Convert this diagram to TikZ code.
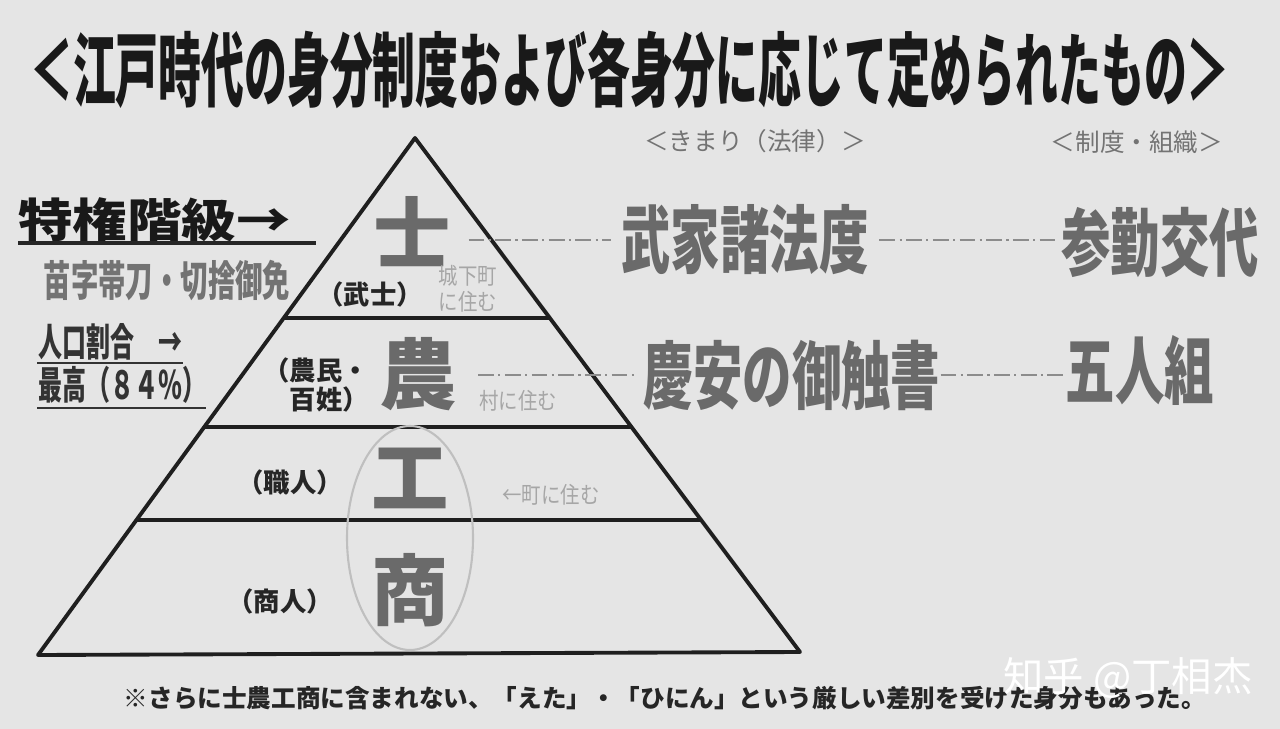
\documentclass[tikz,border=0pt]{standalone}
\usepackage{fontspec}
\newfontfamily\jp{Noto Sans CJK JP}
\newfontfamily\zhmark{Noto Sans CJK SC}
\definecolor{paper}{HTML}{E5E5E5}
\definecolor{inkgray}{HTML}{6A6A6A}
\definecolor{faintgray}{HTML}{A6A6A6}
\tikzset{
  tier/.style={line width=2.2pt, color=black!88, line join=round},
  bigkanji/.style={font=\jp\bfseries\fontsize{44}{44}\selectfont, text=inkgray, inner sep=0pt},
  lawtext/.style={font=\jp\bfseries\fontsize{42}{42}\selectfont, text=inkgray, inner sep=0pt, xscale=0.67},
  rankname/.style={font=\jp\bfseries\fontsize{15}{17}\selectfont, text=black!85, inner sep=0pt, align=center},
  livenote/.style={font=\jp\fontsize{13}{15}\selectfont, text=faintgray, inner sep=0pt, align=left},
  colhead/.style={font=\jp\fontsize{14}{14}\selectfont, text=black!55, inner sep=0pt},
  sidenote/.style={font=\jp\bfseries\fontsize{22}{22}\selectfont, text=black!80, inner sep=0pt, xscale=0.62},
  linkline/.style={line width=1.3pt, color=black!45, dash pattern=on 9pt off 2.5pt on 1.2pt off 2.5pt}
}
\begin{document}
\begin{tikzpicture}[x=0.02cm, y=-0.02cm]
  %%%%% START %%%%%
  \fill[paper] (0, 0) rectangle (1280, 729);
  \useasboundingbox (0, 0) rectangle (1280, 729);

  \node[font=\jp\bfseries\fontsize{46}{46}\selectfont, text=black!90, xscale=0.53, inner sep=0pt] (title) at (630, 70) {＜江戸時代の身分制度および各身分に応じて定められたもの＞};

  % pyramid
  \coordinate (apex) at (415, 138);
  \coordinate (baseL) at (38, 655);
  \coordinate (baseR) at (800, 652);
  \draw[tier] (baseL) -- (apex) -- (baseR) -- cycle;
  \draw[tier] (284, 318) -- (550, 318);
  \draw[tier] (204, 427) -- (631, 427);
  \draw[tier] (137, 520) -- (701, 520);

  \draw[line width=1.2pt, color=black!25] (410, 538) ellipse (63 and 112);

  \node[bigkanji] (shi) at (412, 232) {士};
  \node[bigkanji] (nou) at (418, 374) {農};
  \node[bigkanji] (kou) at (410, 478) {工};
  \node[bigkanji] (shou) at (410, 590) {商};

  \node[rankname] (bushi) at (370, 294) {（武士）};
  \node[rankname, align=right] (nomin) at (316, 385) {（農民・\\百姓）};
  \node[rankname] (shokunin) at (290, 482) {（職人）};
  \node[rankname] (shonin) at (280, 601) {（商人）};

  \node[livenote, xscale=0.85] (jokamachi) at (468, 289) {城下町\\に住む};
  \node[livenote, xscale=0.85] (mura) at (518, 401) {村に住む};
  \node[livenote, xscale=0.85] (machi) at (551, 495) {←町に住む};

  % left side notes
  \node[font=\jp\bfseries\fontsize{31}{31}\selectfont, text=black!90, inner sep=0pt, anchor=west, yscale=0.85] (tokken) at (18, 220) {特権階級→};
  \draw[line width=1.8pt, color=black!85] (18, 243) -- (316, 243);
  \node[font=\jp\bfseries\fontsize{24}{24}\selectfont, text=black!55, inner sep=0pt, xscale=0.65] (myoji) at (167, 280) {苗字帯刀・切捨御免};
  \node[sidenote, anchor=west] (jinko) at (38, 342) {人口割合　→};
  \draw[line width=1.2pt, color=black!80] (37, 363) -- (183, 363);
  \node[sidenote, anchor=west] (saiko) at (38, 385) {最高（８４％）};
  \draw[line width=1.2pt, color=black!80] (37, 408) -- (206, 408);

  % laws and systems
  \node[colhead] (kimari) at (755, 141) {＜きまり（法律）＞};
  \node[colhead] (seido) at (1137, 142) {＜制度・組織＞};

  \node[lawtext] (buke) at (745, 240) {武家諸法度};
  \node[lawtext] (sankin) at (1160, 242) {参勤交代};
  \node[lawtext] (keian) at (792, 375) {慶安の御触書};
  \node[lawtext] (gonin) at (1140, 370) {五人組};

  \draw[linkline] ([xshift=10pt]shi.east |- buke.west) -- ([xshift=-6pt]buke.west);
  \draw[linkline] ([xshift=6pt]buke.east) -- ([xshift=-3pt]buke.east -| sankin.west);
  \draw[linkline] ([xshift=12pt]nou.east |- keian.west) -- ([xshift=-3pt]keian.west);
  \draw[linkline] (keian.east) -- (keian.east -| gonin.west);

  \node[font=\jp\bfseries\fontsize{14}{14}\selectfont, text=black!85, inner sep=0pt] (note) at (665, 698) {※さらに士農工商に含まれない、「えた」・「ひにん」という厳しい差別を受けた身分もあった。};
  \node[font=\zhmark\fontsize{23}{23}\selectfont, text=white, inner sep=0pt] (mark) at (1128, 678) {知乎 @丁相杰};
  %%%%% END %%%%%
\end{tikzpicture}
\end{document}
